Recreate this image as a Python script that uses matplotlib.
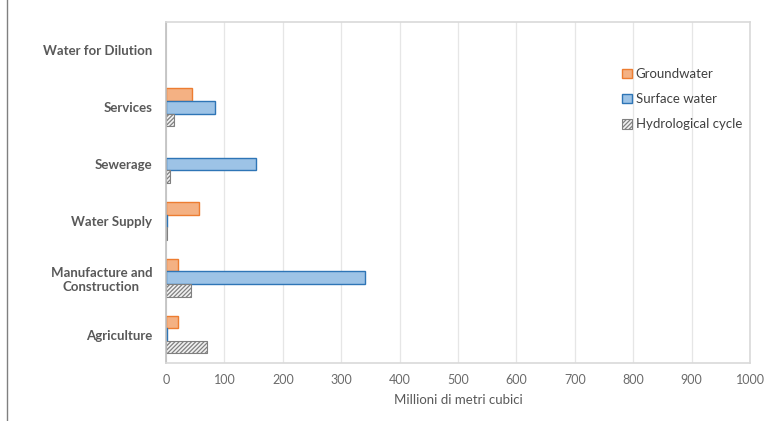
import matplotlib
matplotlib.use("Agg")
import matplotlib.pyplot as plt
from matplotlib.patches import Patch
from matplotlib.lines import Line2D
import numpy as np

plt.rcParams['font.family'] = ['Lato', 'DejaVu Sans']
plt.rcParams['hatch.color'] = '#808080'
plt.rcParams['hatch.linewidth'] = 0.9

categories = ["Agriculture", "Manufacture and\nConstruction", "Water Supply",
              "Sewerage", "Services", "Water for Dilution"]
groundwater = [20, 21, 57, 0, 44, 0]
surface_water = [2, 340, 2, 154, 84, 0]
hydrological_cycle = [70, 43, 1, 7, 14, 0]
x_ticks = [0, 100, 200, 300, 400, 500, 600, 700, 800, 900, 1000]
series_names = ["Groundwater", "Surface water", "Hydrological cycle"]
x_label = "Millioni di metri cubici"


def edge_widths(values, lw):
    # empty bars get no outline
    return [lw if v > 0 else 0 for v in values]


fig = plt.figure(figsize=(7.66, 4.21), dpi=100)
ax = fig.add_axes([166 / 766, 1 - 363 / 421, 584 / 766, 341 / 421])

y = np.arange(len(categories))
h = 0.22
ax.barh(y + h, groundwater, height=h, color='#F4B183', edgecolor='#ED7D31',
        linewidth=edge_widths(groundwater, 1.0))
ax.barh(y, surface_water, height=h, color='#9DC3E6', edgecolor='#2E75B6',
        linewidth=edge_widths(surface_water, 1.0))
ax.barh(y - h, hydrological_cycle, height=h, color='#f2f2f2', edgecolor='#808080',
        linewidth=edge_widths(hydrological_cycle, 0.8), hatch='////////')

ax.set_xlim(0, 1000)
ax.set_ylim(-0.5, len(categories) - 0.5)
ax.set_xticks(x_ticks)
ax.set_xticklabels([str(t) for t in x_ticks])
ax.set_yticks(y)
ax.set_yticklabels(categories, fontweight='bold', fontsize=9.5, color='#595959',
                   multialignment='center')
ax.tick_params(axis='y', length=0, pad=10)
ax.tick_params(axis='x', length=0, pad=8, labelsize=9, labelcolor='#6b6b6b')
ax.grid(axis='x', color='#e6e6e6', linewidth=0.9)
ax.set_axisbelow(True)
for s in ['top', 'right', 'bottom']:
    ax.spines[s].set_color('#d9d9d9')
    ax.spines[s].set_linewidth(1.2)
ax.spines['left'].set_color('#bfbfbf')
ax.spines['left'].set_linewidth(1.2)
ax.set_xlabel(x_label, fontsize=9.5, color='#595959', labelpad=6)

handles = [
    Patch(facecolor='#F4B183', edgecolor='#ED7D31', linewidth=1.0),
    Patch(facecolor='#9DC3E6', edgecolor='#2E75B6', linewidth=1.0),
    Patch(facecolor='#f2f2f2', edgecolor='#808080', linewidth=0.8, hatch='////////'),
]
leg = ax.legend(handles, series_names, loc='upper left',
                bbox_to_anchor=(0.76, 0.9), frameon=False, fontsize=9.5,
                handlelength=0.75, handleheight=0.75, handletextpad=0.3,
                labelspacing=1.0, labelcolor='#404040')

# left border line of the figure
fig.add_artist(Line2D([7 / 766, 7 / 766], [0, 1], transform=fig.transFigure,
                      color='#808080', linewidth=1.0))

fig.savefig("out.png", dpi=100)
